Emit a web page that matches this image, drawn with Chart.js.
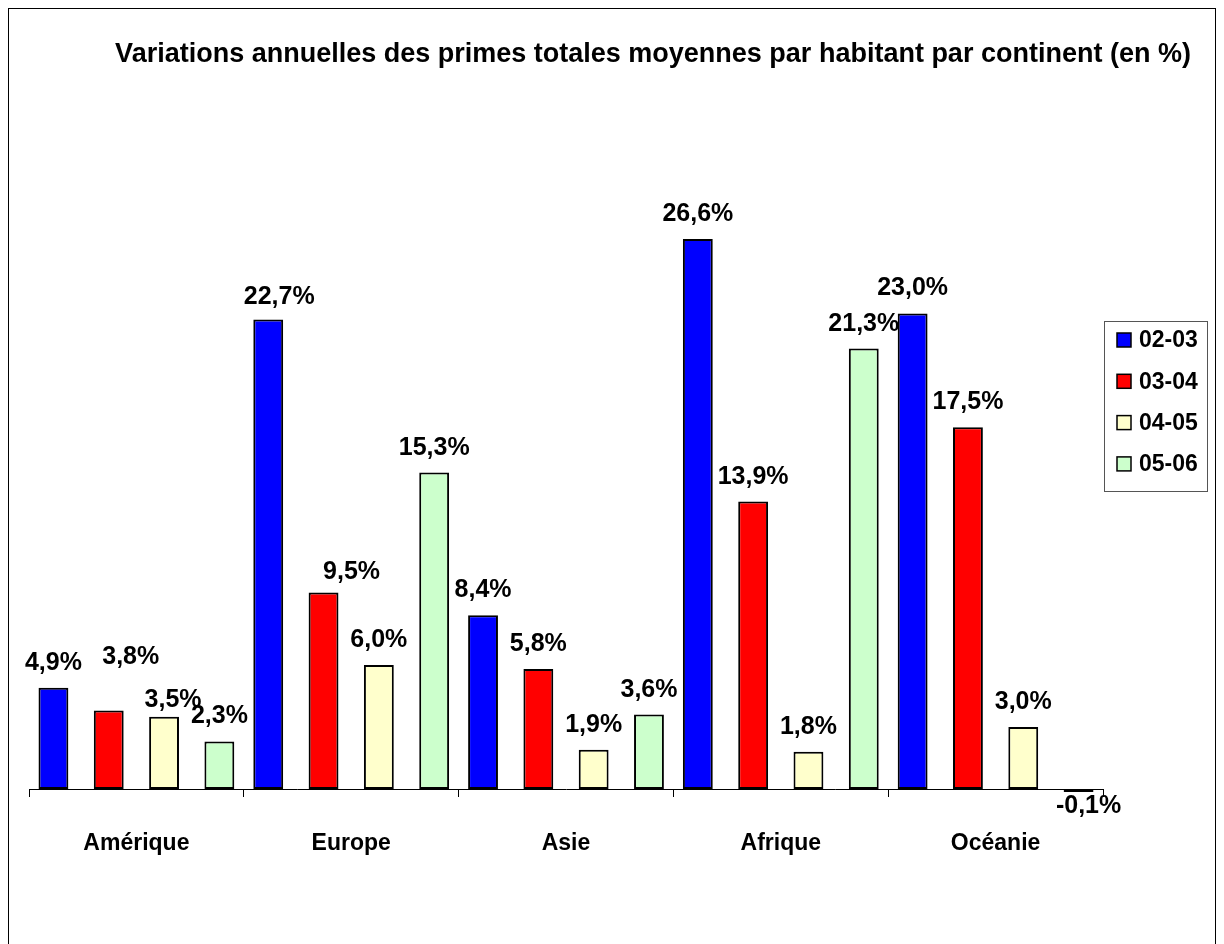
<!DOCTYPE html>
<html>
<head>
<meta charset="utf-8">
<script src="https://cdn.jsdelivr.net/npm/chart.js@4.4.1/dist/chart.umd.min.js"></script>
<style>
  html, body { margin: 0; padding: 0; background: #fff; }
  canvas { display: block; }
</style>
</head>
<body>
<canvas id="myChart" width="1224" height="944"></canvas>
<script>
// donnees
var continents = ["Amérique", "Europe", "Asie", "Afrique", "Océanie"];
var periodes = ["02-03", "03-04", "04-05", "05-06"];
var v0203 = [4.9, 22.7, 8.4, 26.6, 23.0];
var v0304 = [3.8, 9.5, 5.8, 13.9, 17.5];
var v0405 = [3.5, 6.0, 1.9, 1.8, 3.0];
var v0506 = [2.3, 15.3, 3.6, 21.3, -0.1];
var couleurs = ["#0000FF", "#FF0000", "#FFFFCC", "#CCFFCC"];

var titre = "Variations annuelles des primes totales moyennes par habitant par continent (en %)";
var police = '"Liberation Sans", Arial, sans-serif';

// etiquettes deplacees a la main dans l'original (dataset:index -> dx, dy)
var decalages = { "1:0": [22, -28], "2:0": [9, 8], "0:1": [11, 2], "1:1": [28, 4], "3:4": [10, 0] };

function fmt(v) {
	return v.toFixed(1).replace(".", ",") + "%";
}

var decor = {
	id: "decor",
	beforeDraw: function(chart) {
		var c = chart.ctx;
		c.save();
		c.fillStyle = "#fff";
		c.fillRect(0, 0, chart.width, chart.height);
		c.strokeStyle = "#000";
		c.lineWidth = 1;
		c.strokeRect(8.5, 8.5, 1207, 960);
		c.restore();
	},
	afterDraw: function(chart) {
		var c = chart.ctx;
		c.save();
		// titre
		c.fillStyle = "#000";
		c.font = "bold 27px " + police;
		c.textAlign = "center";
		c.textBaseline = "alphabetic";
		c.fillText(titre, 653, 62);

		// etiquettes de valeurs
		c.font = "bold 25px " + police;
		chart.data.datasets.forEach(function(ds, di) {
			var meta = chart.getDatasetMeta(di);
			meta.data.forEach(function(bar, i) {
				var v = ds.data[i];
				var d = decalages[di + ":" + i] || [0, 0];
				var y = v >= 0 ? bar.y - 18 : bar.y + 21;
				c.fillText(fmt(v), bar.x + d[0], y + d[1]);
			});
		});

		// legende
		c.strokeStyle = "#555";
		c.lineWidth = 1;
		c.strokeRect(1104.5, 321.5, 103, 170);
		c.font = "bold 23px " + police;
		c.textAlign = "left";
		c.textBaseline = "middle";
		periodes.forEach(function(p, i) {
			var cy = 340 + i * 41.3;
			c.fillStyle = couleurs[i];
			c.fillRect(1117, cy - 7, 14, 14);
			c.strokeStyle = "#000";
			c.lineWidth = 1.5;
			c.strokeRect(1117, cy - 7, 14, 14);
			c.fillStyle = "#000";
			c.fillText(p, 1139, cy + 1);
		});
		c.restore();
	}
};

var series = [v0203, v0304, v0405, v0506];
var datasets = [];
for (var i = 0; i < series.length; i++) {
	datasets.push({
		label: periodes[i],
		data: series[i],
		backgroundColor: couleurs[i],
		borderColor: "#000",
		borderWidth: 2,
		borderSkipped: false,
		minBarLength: 3,
		categoryPercentage: 1.03,
		barPercentage: 0.54,
		clip: false
	});
}

var ctx = document.getElementById("myChart");
var myChart = new Chart(ctx, {
	type: "bar",
	data: {
		labels: continents,
		datasets: datasets
	},
	options: {
		responsive: false,
		animation: false,
		devicePixelRatio: 1,
		layout: {
			padding: { left: 29, right: 121, top: 210, bottom: 65 }
		},
		plugins: {
			legend: { display: false },
			title: { display: false },
			tooltip: { enabled: false }
		},
		scales: {
			x: {
				offset: true,
				afterFit: function(scale) { scale.height = 90; },
				grid: {
					offset: true,
					drawOnChartArea: false,
					drawTicks: true,
					tickLength: 8,
					color: "#000"
				},
				border: { display: true, color: "#000", width: 1 },
				ticks: {
					color: "#000",
					padding: 33,
					font: { family: police, size: 23, weight: "bold" }
				}
			},
			y: {
				display: false,
				min: 0,
				max: 28
			}
		}
	},
	plugins: [decor]
});
</script>
</body>
</html>
